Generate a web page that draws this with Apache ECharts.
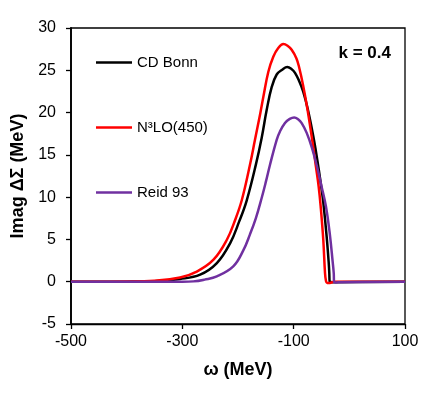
<!DOCTYPE html>
<html>
<head>
<meta charset="utf-8">
<script src="https://cdn.jsdelivr.net/npm/echarts@6/dist/echarts.min.js"></script>
<style>
html,body{margin:0;padding:0;background:#fff;}
#chart{width:436px;height:393px;}
</style>
</head>
<body>
<div id="chart"></div>
<script>
// ---- data ----
const seriesNames = ['CD Bonn', 'N\u00B3LO(450)', 'Reid 93'];

const cdBonnOmega = [-500, -400, -350, -304, -268, -238, -214, -198, -184.4, -167.7, -157.5, -148.5, -139.5, -130.5, -120, -111.5, -104, -97.6, -90, -83, -75, -65, -60, -55, -50, -46.8, -40.7, -37, -36, -35.3, -30, 100];
const cdBonnValue = [0, 0.01, 0.05, 0.32, 0.83, 2.2, 4.57, 7.1, 9.6, 13.9, 17.0, 20.3, 23.0, 24.5, 25.1, 25.38, 25.15, 24.7, 23.7, 22.5, 20.5, 17.3, 15.4, 13.3, 11.0, 9.4, 5.3, 2.2, 1.0, 0, -0.05, 0];

const n3loOmega = [-500, -400, -350, -304, -274, -244, -220, -205, -193, -178.5, -169.5, -160, -154.6, -145.6, -136.6, -128, -118.6, -111, -103.6, -95, -90, -83, -75, -65, -60, -55, -51.5, -46.8, -43.7, -42, -40, -35, -28, 100];
const n3loValue = [0, 0.02, 0.1, 0.5, 1.2, 2.6, 4.96, 7.33, 9.69, 13.83, 16.78, 19.9, 21.8, 24.8, 26.6, 27.6, 28.1, 27.9, 27.42, 26.4, 25.3, 23.2, 20.3, 16.0, 13.6, 11.2, 8.9, 4.96, 1.03, 0.1, -0.15, -0.15, 0, 0];

const reidOmega = [-500, -400, -300, -280, -260, -238, -208.5, -190.5, -178.5, -168, -157.5, -150, -142.5, -130.5, -124.6, -115.6, -107, -99, -92, -85.6, -76.6, -67, -58, -50, -42, -35, -30, -28, -27.5, -25, -15, 100];
const reidValue = [0, 0, 0, 0.04, 0.25, 0.63, 1.81, 3.7, 5.6, 7.5, 9.9, 11.8, 13.83, 16.78, 17.77, 18.76, 19.25, 19.42, 19.2, 18.75, 17.6, 15.8, 13.6, 11.3, 8.9, 5.6, 2.4, 1.0, 0, -0.1, -0.05, 0];

const xTicks = {min: -500, max: 100, interval: 200};
const yTicks = {min: -5, max: 30, interval: 5};
const annotation = 'k = 0.4';
const xName = '\u03C9 (MeV)';
const yName = 'Imag \u0394\u03A3 (MeV)';

function pairs(xs, ys) { return xs.map((x, i) => [x, ys[i]]); }

const FONT = 'Liberation Sans, Arial, sans-serif';
const colors = ['#000000', '#ff0000', '#7030a0'];
const datasets = [pairs(cdBonnOmega, cdBonnValue), pairs(n3loOmega, n3loValue), pairs(reidOmega, reidValue)];

const chart = echarts.init(document.getElementById('chart'), null, {renderer: 'canvas'});
chart.setOption({
  animation: false,
  backgroundColor: '#ffffff',
  title: {
    text: annotation,
    right: 45, top: 45, padding: 0,
    textStyle: {fontFamily: FONT, fontSize: 17, fontWeight: 'bold', color: '#000'}
  },
  legend: {
    orient: 'vertical',
    left: 96, top: 55,
    itemWidth: 36, itemHeight: 2.5,
    itemGap: 50,
    padding: 0,
    icon: 'rect',
    textStyle: {fontFamily: FONT, fontSize: 15, lineHeight: 15, color: '#000'},
    data: seriesNames
  },
  grid: {
    left: 71, right: 31, top: 28, bottom: 69,
    show: true, borderColor: '#000', borderWidth: 1.3, backgroundColor: 'transparent'
  },
  xAxis: {
    type: 'value',
    min: xTicks.min, max: xTicks.max, interval: xTicks.interval,
    name: xName, nameLocation: 'middle', nameGap: 37,
    nameTextStyle: {fontFamily: FONT, fontSize: 18, fontWeight: 'bold', color: '#000'},
    axisLine: {show: true, onZero: false, lineStyle: {color: '#000', width: 1.3}},
    axisTick: {show: true, inside: false, length: 5, lineStyle: {color: '#000', width: 1.3}},
    axisLabel: {fontFamily: FONT, fontSize: 16, color: '#000', margin: 10},
    splitLine: {show: false}
  },
  yAxis: {
    type: 'value',
    min: yTicks.min, max: yTicks.max, interval: yTicks.interval,
    name: yName, nameLocation: 'middle', nameGap: 38, nameRotate: 90,
    nameTextStyle: {fontFamily: FONT, fontSize: 18, fontWeight: 'bold', color: '#000'},
    axisLine: {show: true, onZero: false, lineStyle: {color: '#000', width: 1.8}},
    axisTick: {show: true, inside: false, length: 5, lineStyle: {color: '#000', width: 1.3}},
    axisLabel: {fontFamily: FONT, fontSize: 16, color: '#000', margin: 15},
    splitLine: {show: false}
  },
  series: seriesNames.map((name, i) => ({
    name: name,
    type: 'line',
    data: datasets[i],
    symbol: 'none',
    smooth: 0.4,
    color: colors[i],
    lineStyle: {color: colors[i], width: 2.5},
    z: 2 + i
  }))
});
</script>
</body>
</html>
